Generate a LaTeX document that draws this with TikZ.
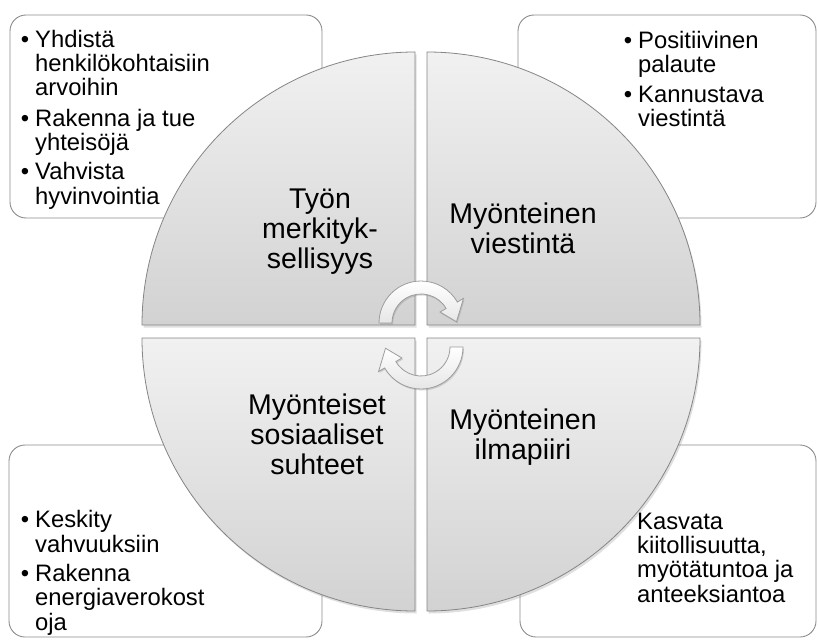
\documentclass[tikz,border=0pt]{standalone}
\usepackage{fontspec}
\setmainfont{Liberation Sans}
\usetikzlibrary{shadows}
\definecolor{quadtop}{HTML}{F1F1F1}
\definecolor{quadbottom}{HTML}{D2D2D2}
\definecolor{quadline}{HTML}{858585}
\definecolor{boxline}{HTML}{8C8C8C}
\definecolor{arrowline}{HTML}{9C9C9C}
\definecolor{arrowfill}{HTML}{E6E6E6}
\newcommand{\bul}{\llap{\textbullet\hspace{6pt}}}

\begin{document}
\begin{tikzpicture}[x=1pt, y=1pt,
    quad/.style={draw=quadline, line width=0.8pt, top color=quadtop, bottom color=quadbottom,
      drop shadow={shadow xshift=1.5pt, shadow yshift=-2.5pt, opacity=0.25}},
    infobox/.style={draw=boxline, line width=0.9pt, fill=white, rounded corners=16pt},
    boxtext/.style={anchor=base west, align=left, inner sep=0pt, font=\fontsize{23.8}{24.3}\selectfont},
    quadlabel/.style={anchor=base, align=center, inner sep=0pt, font=\fontsize{28.5}{29.8}\selectfont},
    cyclearrow/.style={draw=arrowline, line width=0.8pt, top color=white, bottom color=arrowfill,
      drop shadow={shadow xshift=1pt, shadow yshift=-1.5pt, opacity=0.3}}]
    \useasboundingbox (0,0) rectangle (818,-639);

    % Text boxes (behind the circle)
    \draw[infobox] (10,-15) rectangle (322,-218);
    \draw[infobox] (518,-15) rectangle (816,-218);
    \draw[infobox] (9,-445) rectangle (322,-637);
    \draw[infobox] (520,-445) rectangle (816,-637);

    % Quadrants
    \draw[quad] (415,-325) -- (142,-325) arc[start angle=180, end angle=90, radius=273] -- cycle;
    \draw[quad] (427,-325) -- (427,-52) arc[start angle=90, end angle=0, radius=273] -- cycle;
    \draw[quad] (415,-338) -- (142,-338) arc[start angle=180, end angle=270, radius=273] -- cycle;
    \draw[quad] (427,-338) -- (427,-611) arc[start angle=270, end angle=360, radius=273] -- cycle;

    % Quadrant labels (placed at the baseline of the last line)
    \node[quadlabel] (meaning) at (320,-268) {Työn\\merkityk-\\sellisyys};
    \node[quadlabel] (communication) at (523,-253) {Myönteinen\\viestintä};
    \node[quadlabel] (relations) at (317,-474) {Myönteiset\\sosiaaliset\\suhteet};
    \node[quadlabel] (climate) at (523,-459) {Myönteinen\\ilmapiiri};

    % Box texts
    \node[boxtext] (meaningtext) at (35,-204)
      {\bul Yhdistä\\henkilökohtaisiin\\arvoihin\\[6pt]\bul Rakenna ja tue\\yhteisöjä\\[5pt]\bul Vahvista\\hyvinvointia};
    \node[boxtext] (communicationtext) at (638,-127)
      {\bul Positiivinen\\palaute\\[6pt]\bul Kannustava\\viestintä};
    \node[boxtext] (relationstext) at (35,-630)
      {\bul Keskity\\vahvuuksiin\\[5pt]\bul Rakenna\\energiaverokost\\oja};
    \node[boxtext] (climatetext) at (637,-602)
      {Kasvata\\kiitollisuutta,\\myötätuntoa ja\\anteeksiantoa};

    % Cycle arrows in the middle
    \coordinate (topc) at (421,-323);
    \coordinate (botc) at (421,-347);
    \draw[cyclearrow] ([shift={(180:42)}]topc) arc[start angle=180, end angle=30, radius=42]
      -- ([shift={(30:49)}]topc) -- ([shift={(2:35.5)}]topc) -- ([shift={(30:22)}]topc)
      -- ([shift={(30:29)}]topc) arc[start angle=30, end angle=180, radius=29] -- cycle;
    \draw[cyclearrow] ([shift={(0:42)}]botc) arc[start angle=0, end angle=-150, radius=42]
      -- ([shift={(-150:49)}]botc) -- ([shift={(-178:35.5)}]botc) -- ([shift={(-150:22)}]botc)
      -- ([shift={(-150:29)}]botc) arc[start angle=-150, end angle=0, radius=29] -- cycle;
\end{tikzpicture}
\end{document}
